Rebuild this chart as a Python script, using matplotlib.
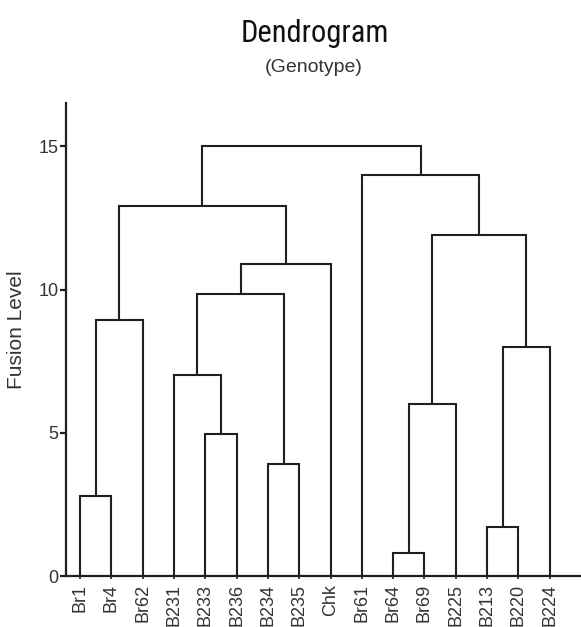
import matplotlib
matplotlib.use("Agg")
import matplotlib.pyplot as plt

# ---- data ----
leaves = ["Br1", "Br4", "Br62", "B231", "B233", "B236", "B234", "B235", "Chk",
          "Br61", "Br64", "Br69", "B225", "B213", "B220", "B224"]
# merges: (child_a, child_b, fusion level); indices >= len(leaves) refer to earlier merges
merge_a = [10, 13, 0, 6, 4, 16, 3, 17, 18, 22, 25, 21, 24, 9, 28]
merge_b = [11, 14, 1, 7, 5, 12, 20, 15, 2, 19, 8, 23, 26, 27, 29]
merge_h = [0.8, 1.7, 2.8, 3.9, 4.95, 6.0, 7.0, 8.0, 8.95, 9.85, 10.9, 11.9, 12.9, 14.0, 15.0]
yticks = [0, 5, 10, 15]

plt.rcParams['font.family'] = ['Liberation Sans', 'DejaVu Sans']

fig = plt.figure(figsize=(5.81, 6.27), dpi=100)
ax = fig.add_axes([0.113, 0.0813, 0.887, 0.754])

n = len(leaves)
xpos = {i: float(i) for i in range(n)}
ypos = {i: 0.0 for i in range(n)}
col = "#1f1f1f"
for k, (a, b, h) in enumerate(zip(merge_a, merge_b, merge_h)):
    xa, xb = xpos[a], xpos[b]
    ya, yb = ypos[a], ypos[b]
    ax.plot([xa, xa, xb, xb], [ya, h, h, yb], color=col, lw=1.5,
            solid_joinstyle='miter', solid_capstyle='butt', zorder=2)
    node = n + k
    xpos[node] = (xa + xb) / 2
    ypos[node] = h

ax.set_xlim(-0.46, 16.0)
ax.set_ylim(0, 16.5)
ax.set_xticks(range(n))
ax.set_xticklabels(leaves, rotation=90, fontsize=13, va='top')
ax.set_yticks(yticks)
ax.set_yticklabels([str(t) for t in yticks], fontsize=13)
for s in ['top', 'right']:
    ax.spines[s].set_visible(False)
for s in ['left', 'bottom']:
    ax.spines[s].set_linewidth(1.6)
    ax.spines[s].set_color(col)
ax.tick_params(axis='y', length=4, width=1.6, pad=1, colors=col, labelcolor='#333333')
ax.tick_params(axis='x', length=2.5, width=1.2, pad=3, colors=col, labelcolor='#333333')

fig.text(17/581, 1 - 330/627, "Fusion Level", rotation=90, ha='center', va='center',
         fontsize=15, color='#333333')
fig.text(315/581, 1 - 42/627, "Dendrogram", ha='center', va='baseline', fontsize=22,
         family=['Roboto Condensed', 'PT Sans Narrow', 'Archivo Narrow', 'Liberation Sans'],
         color='#111111')
fig.text(314/581, 1 - 72/627, "(Genotype)", ha='center', va='baseline', fontsize=14,
         color='#333333')

fig.savefig("out.png", dpi=100)
